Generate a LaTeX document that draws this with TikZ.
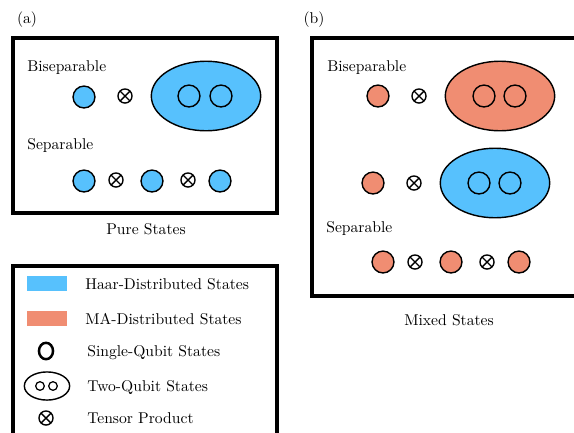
\documentclass[tikz,border=0pt]{standalone}
\usetikzlibrary{shapes.geometric,calc}
\definecolor{haar}{HTML}{57C1FD}
\definecolor{ma}{HTML}{F08D72}
\begin{document}
\begin{tikzpicture}[x=0.64pt,y=-0.64pt,
  frame/.style={draw,line width=2pt},
  qb/.style={circle,draw,line width=0.9pt,minimum size=14pt,inner sep=0pt},
  two/.style={ellipse,draw,line width=0.9pt,minimum width=70pt,minimum height=44.5pt,inner sep=0pt},
  otim/.style={circle,draw,line width=0.9pt,minimum size=9pt,inner sep=0pt,
    path picture={\draw[line width=0.9pt]
      ($(path picture bounding box.center)+(45:4.5pt)$)--($(path picture bounding box.center)+(225:4.5pt)$)
      ($(path picture bounding box.center)+(135:4.5pt)$)--($(path picture bounding box.center)+(315:4.5pt)$);}},
  lbl/.style={anchor=base west,inner sep=0pt,font=\normalsize},
  captxt/.style={anchor=base,inner sep=0pt}]
\useasboundingbox (0,0) rectangle (574,432);
% panel labels
\node[captxt] (la) at (27,23) {(a)};
\node[captxt] (lb) at (314,23) {(b)};
% frames
\draw[frame] (13,38) rectangle (277,213);
\draw[frame] (312,38) rectangle (590,296);
\draw[frame] (13,266) rectangle (277,450);
% panel (a)
\node[lbl] (abis) at (27,71) {Biseparable};
\node[qb,fill=haar] (a1) at (84,97) {};
\node[otim] (ax1) at (125,96) {};
\node[two,fill=haar] (ae) at (206,96) {};
\node[qb] (ae1) at (189,96) {};
\node[qb] (ae2) at (221,96) {};
\node[lbl] (asep) at (27,149) {Separable};
\node[qb,fill=haar] (as1) at (84,181) {};
\node[otim] (asx1) at (116,180) {};
\node[qb,fill=haar] (as2) at (152,181) {};
\node[otim] (asx2) at (188,180) {};
\node[qb,fill=haar] (as3) at (220,181) {};
\node[captxt] (apure) at (146,234) {Pure States};
% panel (b)
\node[lbl] (bbis) at (327,71) {Biseparable};
\node[qb,fill=ma] (b1) at (378,96) {};
\node[otim] (bx1) at (419,96) {};
\node[two,fill=ma] (be) at (500,96) {};
\node[qb] (be1) at (484,96) {};
\node[qb] (be2) at (515,96) {};
\node[qb,fill=ma] (b2) at (373,183) {};
\node[otim] (bx2) at (414,183) {};
\node[two,fill=haar] (bf) at (495,183) {};
\node[qb] (bf1) at (479,183) {};
\node[qb] (bf2) at (510,183) {};
\node[lbl] (bsep) at (326,232) {Separable};
\node[qb,fill=ma] (bs1) at (383,262) {};
\node[otim] (bsx1) at (415,262) {};
\node[qb,fill=ma] (bs2) at (451,262) {};
\node[otim] (bsx2) at (487,262) {};
\node[qb,fill=ma] (bs3) at (519,262) {};
\node[captxt] (bmix) at (449,325) {Mixed States};
% legend
\fill[haar] (27,276) rectangle (67,291);
\node[lbl] (lh) at (85,289) {Haar-Distributed States};
\fill[ma] (27,311) rectangle (67,326);
\node[lbl] (lm) at (85,324) {MA-Distributed States};
\node[ellipse,draw,line width=1.6pt,minimum width=9pt,minimum height=10.5pt,inner sep=0pt] (ls) at (46,351) {};
\node[lbl] (lst) at (87,356) {Single-Qubit States};
\node[ellipse,draw,line width=0.9pt,minimum width=29pt,minimum height=18pt,inner sep=0pt] (lt) at (47,386) {};
\node[circle,draw,line width=0.8pt,minimum size=5.5pt,inner sep=0pt] (lt1) at (40,386) {};
\node[circle,draw,line width=0.8pt,minimum size=5.5pt,inner sep=0pt] (lt2) at (53,386) {};
\node[lbl] (ltt) at (87,391) {Two-Qubit States};
\node[otim] (lx) at (46,418) {};
\node[lbl] (lxt) at (87,423) {Tensor Product};
\end{tikzpicture}
\end{document}
